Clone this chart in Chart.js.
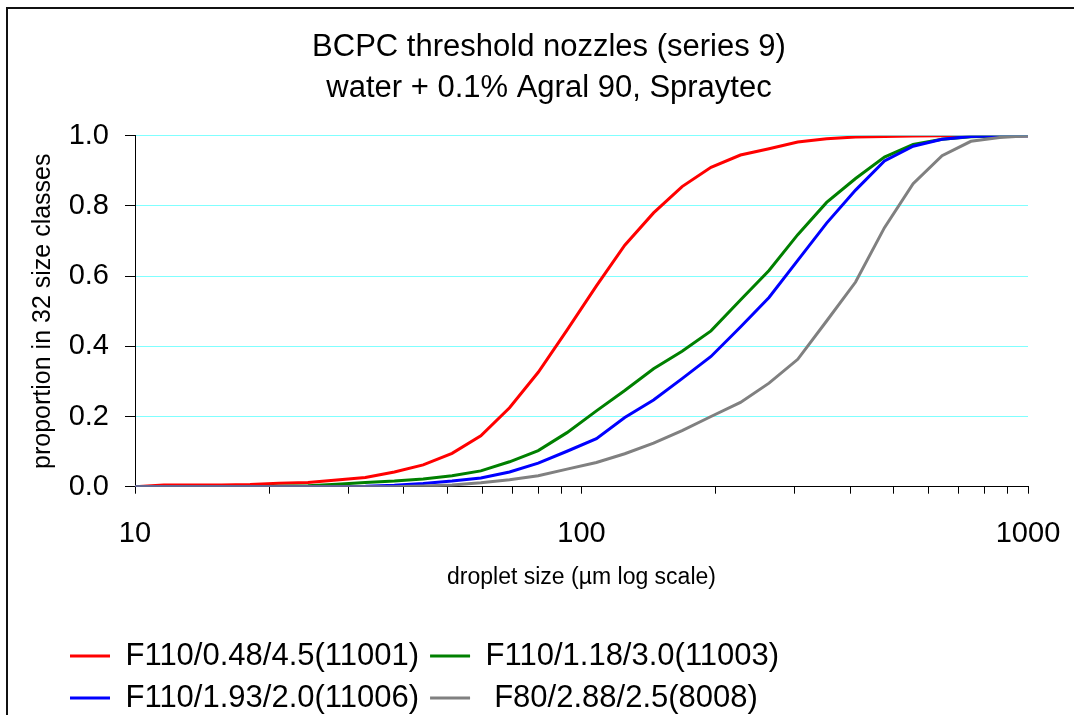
<!DOCTYPE html>
<html>
<head>
<meta charset="utf-8">
<title>BCPC threshold nozzles</title>
<script src="https://cdn.jsdelivr.net/npm/chart.js@4.4.1/dist/chart.umd.min.js"></script>
<style>
  html, body { margin: 0; padding: 0; background: #fff; }
  #wrap { position: relative; width: 1074px; height: 715px; }
  #frame {
    position: absolute; left: 6px; top: 7px; right: 0; bottom: 0;
    border-top: 2px solid #111; border-left: 2px solid #111;
    pointer-events: none;
  }
</style>
</head>
<body>
<div id="wrap">
  <canvas id="cumChart" width="1074" height="715"></canvas>
  <div id="frame"></div>
</div>
<script>
// droplet size classes (µm)
const sizes = [10, 11.6, 13.5, 15.6, 18.1, 21.0, 24.4, 28.3, 32.8, 38.1, 44.2, 51.3, 59.5, 69.0, 80.0, 92.8,
  108, 125, 145, 168, 195, 227, 263, 305, 354, 411, 477, 553, 642, 745, 864, 1000];

// cumulative proportion
const f11001 = [0, 0.005, 0.005, 0.005, 0.006, 0.010, 0.012, 0.019, 0.026, 0.042, 0.062, 0.095, 0.145, 0.225, 0.326, 0.446,
  0.572, 0.688, 0.780, 0.855, 0.910, 0.945, 0.963, 0.982, 0.991, 0.996, 0.998, 0.999, 1, 1, 1, 1];
const f11003 = [0, 0, 0, 0, 0, 0.001, 0.003, 0.007, 0.012, 0.016, 0.022, 0.031, 0.045, 0.071, 0.103, 0.154,
  0.216, 0.274, 0.336, 0.386, 0.444, 0.532, 0.616, 0.718, 0.810, 0.878, 0.939, 0.975, 0.990, 0.997, 0.999, 1];
const f11006 = [0, 0, 0, 0, 0, 0, 0, 0, 0.001, 0.004, 0.009, 0.016, 0.025, 0.042, 0.067, 0.101,
  0.137, 0.197, 0.247, 0.308, 0.371, 0.455, 0.539, 0.645, 0.751, 0.845, 0.928, 0.970, 0.990, 0.998, 1, 1];
const f8008 = [0, 0, 0, 0, 0, 0, 0, 0, 0, 0, 0.002, 0.005, 0.011, 0.020, 0.031, 0.050,
  0.069, 0.094, 0.124, 0.160, 0.200, 0.240, 0.295, 0.363, 0.472, 0.583, 0.738, 0.863, 0.943, 0.984, 0.995, 1];

const seriesNames = ['F110/0.48/4.5(11001)', 'F110/1.18/3.0(11003)', 'F110/1.93/2.0(11006)', ' F80/2.88/2.5(8008)'];
const seriesColors = ['#ff0000', '#008000', '#0000ff', '#808080'];

const xTickValues = [10, 20, 30, 40, 50, 60, 70, 80, 90, 100, 200, 300, 400, 500, 600, 700, 800, 900, 1000];
const xTickLabels = ['10', '100', '1000'];

const FONT = "'Liberation Sans', Arial, sans-serif";

function toPoints(values) {
  return sizes.map((s, i) => ({ x: s, y: values[i] }));
}

// legend rows start near the left edge, two entries per row
const legendPlace = {
  id: 'legendPlace',
  afterLayout(chart) {
    chart.legend.left = 59;
    chart.legend.right = 850;
  }
};

const ctx = document.getElementById('cumChart');
const cumChart = new Chart(ctx, {
  type: 'line',
  data: {
    datasets: [f11001, f11003, f11006, f8008].map((vals, i) => ({
      label: seriesNames[i],
      data: toPoints(vals),
      borderColor: seriesColors[i],
      backgroundColor: seriesColors[i],
      borderWidth: 3,
      pointRadius: 0,
      tension: 0,
      order: 3 - i
    }))
  },
  options: {
    responsive: false,
    animation: false,
    layout: { padding: { left: 70, right: 46, top: 0, bottom: -8.5 } },
    plugins: {
      title: {
        display: true,
        text: ['BCPC threshold nozzles (series 9)', 'water + 0.1% Agral 90, Spraytec'],
        color: '#000',
        font: { family: FONT, size: 31, weight: 'normal', lineHeight: 41 / 31 },
        padding: { top: 26.5, bottom: 27.2 }
      },
      legend: {
        position: 'bottom',
        align: 'start',
        labels: {
          color: '#000',
          font: { family: FONT, size: 31 },
          boxWidth: 40,
          boxHeight: 3,
          padding: 11,
          generateLabels(chart) {
            return chart.data.datasets.map((ds, i) => ({
              text: ds.label,
              fillStyle: ds.borderColor,
              strokeStyle: ds.borderColor,
              lineWidth: 0,
              hidden: false,
              datasetIndex: i
            }));
          }
        }
      },
      tooltip: { enabled: false }
    },
    scales: {
      x: {
        type: 'logarithmic',
        min: 10,
        max: 1000,
        afterBuildTicks(scale) {
          scale.ticks = xTickValues.map(v => ({ value: v }));
        },
        afterFit(scale) {
          scale.paddingLeft = 0;
          scale.paddingRight = 0;
        },
        ticks: {
          autoSkip: false,
          maxRotation: 0,
          color: '#000',
          padding: 22.5,
          font: { family: FONT, size: 29 },
          callback(value) {
            const s = String(value);
            return xTickLabels.includes(s) ? s : '';
          }
        },
        grid: { drawOnChartArea: false, tickLength: 7, tickColor: '#000' },
        border: { color: '#000', width: 1 },
        title: {
          display: true,
          text: 'droplet size (µm log scale)',
          color: '#000',
          font: { family: FONT, size: 23 },
          padding: { top: -9.3, bottom: 37.7 }
        }
      },
      y: {
        min: 0,
        max: 1,
        afterFit(scale) {
          scale.width = 65;
        },
        ticks: {
          stepSize: 0.2,
          color: '#000',
          padding: 16,
          font: { family: FONT, size: 29 },
          callback: value => value.toFixed(1)
        },
        grid: { color: '#80ffff', tickColor: '#000', tickLength: 10, lineWidth: 1 },
        border: { color: '#000', width: 1 },
        title: {
          display: true,
          text: 'proportion in 32 size classes',
          color: '#000',
          font: { family: FONT, size: 25 },
          padding: { top: -42, bottom: 0 }
        }
      }
    }
  },
  plugins: [legendPlace]
});
</script>
</body>
</html>
